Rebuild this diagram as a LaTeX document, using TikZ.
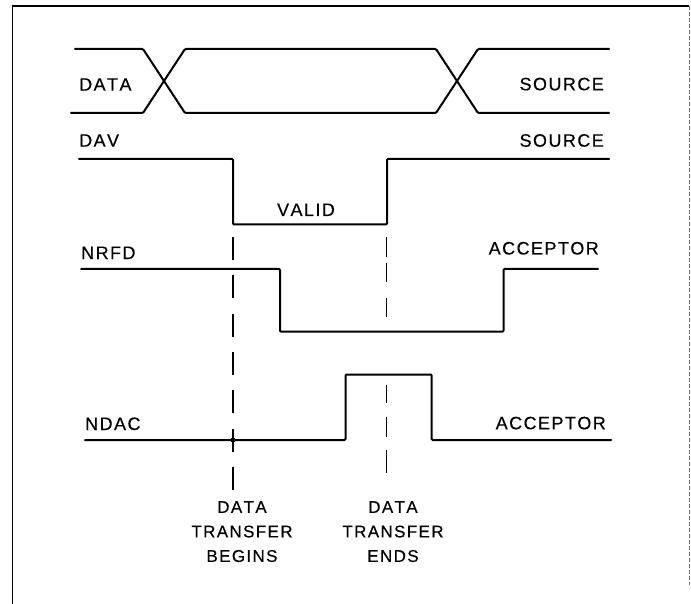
\documentclass[tikz,border=0pt]{standalone}
\usepackage{fontspec}
\setmainfont{Liberation Sans}[Kerning=Off, LetterSpace=8, FakeBold=0.3]
\begin{document}
\begin{tikzpicture}[x=1pt,y=-1pt,
  sig/.style={line width=2pt, line join=round, line cap=round, rounded corners=1pt},
  frameline/.style={line width=1.1pt},
  marker/.style={line width=1.7pt, dash pattern=on 23pt off 15.3pt},
  lbl/.style={inner sep=0pt, font=\fontsize{18}{20}\selectfont},
  blbl/.style={inner sep=0pt, align=center, font=\fontsize{17}{24.5}\selectfont}]
\useasboundingbox (0,0) rectangle (691,604);
% frame
\draw[frameline] (12.7,604) -- (12.7,6) -- (689,6);
\draw[line width=0.9pt, black!55, dash pattern=on 4pt off 2pt] (689.3,6) -- (689.3,585);
% DATA bus
\draw[sig] (75,49) -- (143,49) -- (185,113) -- (436,113) -- (478,49) -- (609,49);
\draw[sig] (71,113) -- (143,113) -- (185,49) -- (436,49) -- (478,113) -- (609,113);
% DAV
\draw[sig] (79,159) -- (233,159) -- (233,224.5) -- (387,224.5) -- (387,159) -- (609,159);
% NRFD
\draw[sig] (81,269) -- (280,269) -- (280,331.7) -- (503.5,331.7) -- (503.5,269) -- (598,269);
% NDAC
\draw[sig] (85,440) -- (345.5,440) -- (345.5,374.5) -- (431.7,374.5) -- (431.7,440) -- (611,440);
\fill (233,440) circle (2.6pt);
% marker lines
\draw[marker] (233,237) -- (233,490);
\draw[line width=1.7pt] (386.5,237) -- (386.5,257) (386.5,263) -- (386.5,282) (386.5,298) -- (386.5,317)
  (386.5,385) -- (386.5,403) (386.5,417) -- (386.5,437) (386.5,450) -- (386.5,473);
% labels
\node[lbl, anchor=base west] (data) at (79,90.7) {DATA};
\node[lbl, anchor=base east] (src1) at (604,90.3) {SOURCE};
\node[lbl, anchor=base west] (dav) at (79,146.7) {DAV};
\node[lbl, anchor=base east] (src2) at (604,146.7) {SOURCE};
\node[lbl, anchor=base] (valid) at (306,216) {VALID};
\node[lbl, anchor=base west] (nrfd) at (81,259) {NRFD};
\node[lbl, anchor=base east] (acc1) at (599,254.5) {ACCEPTOR};
\node[lbl, anchor=base west] (ndac) at (85,430) {NDAC};
\node[lbl, anchor=base east] (acc2) at (606,429.3) {ACCEPTOR};
\node[blbl, anchor=north] (begins) at (242,501) {DATA\\TRANSFER\\BEGINS};
\node[blbl, anchor=north] (ends) at (393,501) {DATA\\TRANSFER\\ENDS};
\end{tikzpicture}
\end{document}
